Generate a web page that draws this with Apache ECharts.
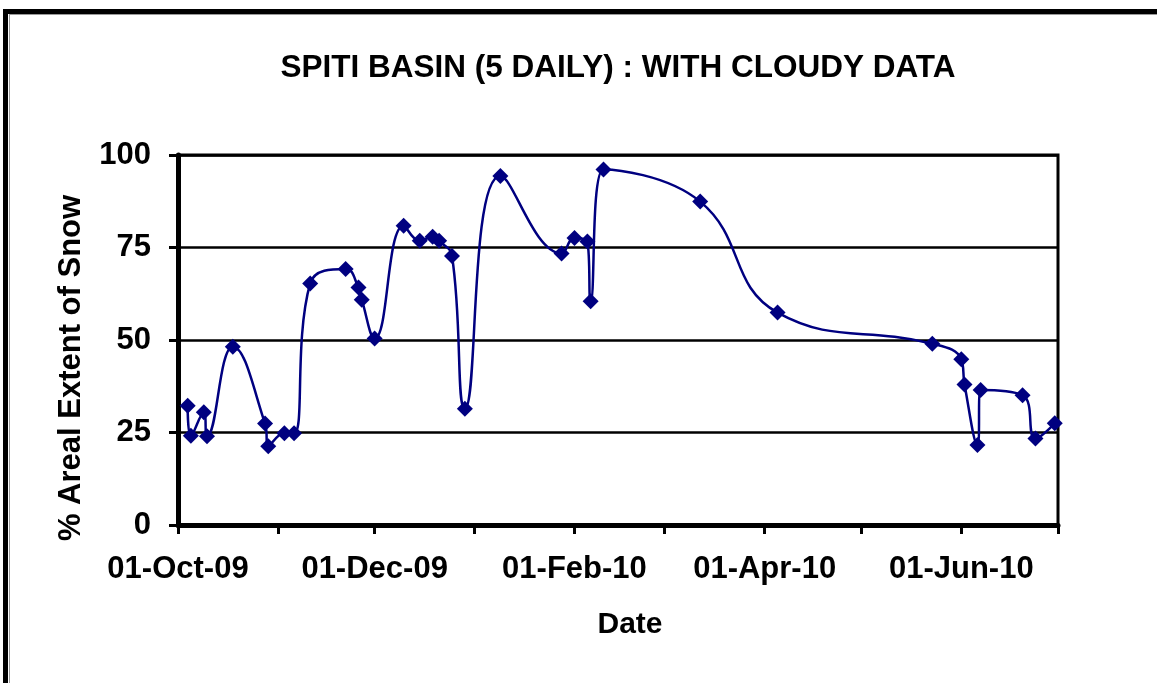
<!DOCTYPE html>
<html>
<head>
<meta charset="utf-8">
<title>Spiti Basin snow cover</title>
<script src="https://cdn.jsdelivr.net/npm/echarts@6/dist/echarts.min.js"></script>
<style>
  html, body { margin: 0; padding: 0; background: #ffffff; }
  #chart { width: 1157px; height: 683px; }
</style>
</head>
<body>
<div id="chart"></div>
<script>
// 5-daily observation dates (with cloudy scenes included)
const obsDates = [
  '2009-10-04', '2009-10-05', '2009-10-09', '2009-10-10', '2009-10-18',
  '2009-10-28', '2009-10-29', '2009-11-03', '2009-11-06', '2009-11-11',
  '2009-11-22', '2009-11-26', '2009-11-27', '2009-12-01', '2009-12-10',
  '2009-12-15', '2009-12-19', '2009-12-21', '2009-12-25', '2009-12-29',
  '2010-01-09', '2010-01-28', '2010-02-01', '2010-02-05', '2010-02-06',
  '2010-02-10', '2010-03-12', '2010-04-05', '2010-05-23', '2010-06-01',
  '2010-06-02', '2010-06-06', '2010-06-07', '2010-06-20', '2010-06-24',
  '2010-06-30'
];

// % areal extent of snow on each date
const snowExtent = [
  32.2, 24.1, 30.5, 24.0, 48.2,
  27.4, 21.3, 24.8, 24.8, 65.3,
  69.2, 64.2, 60.9, 50.4, 80.9,
  76.8, 77.9, 76.8, 72.7, 31.4,
  94.3, 73.4, 77.6, 76.6, 60.5,
  96.1, 87.4, 57.4, 49.0, 44.8,
  38.0, 21.6, 36.5, 35.1, 23.4,
  27.5
];

// Month starts carrying a tick mark, and the ones that also carry a label
const tickMonths = [
  '2009-10-01', '2009-11-01', '2009-12-01', '2010-01-01', '2010-02-01',
  '2010-03-01', '2010-04-01', '2010-05-01', '2010-06-01', '2010-07-01'
];
const labelMonths = ['2009-10-01', '2009-12-01', '2010-02-01', '2010-04-01', '2010-06-01'];
const labelTexts = ['01-Oct-09', '01-Dec-09', '01-Feb-10', '01-Apr-10', '01-Jun-10'];

// dates are plotted on a numeric axis in milliseconds (UTC)
function toTime(s) {
  const p = s.split('-').map(Number);
  return Date.UTC(p[0], p[1] - 1, p[2]);
}

const labelByTime = {};
labelMonths.forEach((d, i) => { labelByTime[toTime(d)] = labelTexts[i]; });

const FONT = "'Liberation Sans', Arial, sans-serif";
const NAVY = '#000080';

const chart = echarts.init(document.getElementById('chart'), null, { renderer: 'canvas' });

chart.setOption({
  backgroundColor: '#ffffff',
  animation: false,
  title: {
    text: 'SPITI BASIN (5 DAILY) : WITH CLOUDY DATA',
    left: 613,
    top: 47,
    textAlign: 'center',
    textStyle: { fontFamily: FONT, fontWeight: 'bold', fontSize: 31.5, color: '#000000' }
  },
  graphic: [
    // outer frame: heavy top and left edges with a thin inner shadow line
    { type: 'rect', shape: { x: 3, y: 9, width: 1160, height: 5 }, style: { fill: '#000000' }, silent: true },
    { type: 'rect', shape: { x: 3, y: 9, width: 5, height: 690 }, style: { fill: '#000000' }, silent: true },
    { type: 'rect', shape: { x: 9, y: 14, width: 1160, height: 1 }, style: { fill: '#9a9a9a' }, silent: true },
    { type: 'rect', shape: { x: 9, y: 14, width: 1, height: 690 }, style: { fill: '#9a9a9a' }, silent: true }
  ],
  grid: {
    left: 178,
    right: 99,
    top: 155,
    bottom: 158,
    show: true,
    borderColor: '#000000',
    borderWidth: 3,
    containLabel: false
  },
  xAxis: {
    type: 'value',
    min: toTime(tickMonths[0]),
    max: toTime(tickMonths[tickMonths.length - 1]),
    name: 'Date',
    nameLocation: 'middle',
    nameGap: 85,
    nameTextStyle: {
      fontFamily: FONT, fontWeight: 'bold', fontSize: 30, color: '#000000',
      padding: [0, 0, 0, 24]
    },
    axisLine: { show: true, lineStyle: { color: '#000000', width: 5 } },
    axisTick: {
      show: true,
      length: 9,
      inside: false,
      lineStyle: { color: '#000000', width: 3 },
      customValues: tickMonths.map(toTime)
    },
    axisLabel: {
      customValues: labelMonths.map(toTime),
      margin: 29,
      fontFamily: FONT,
      fontWeight: 'bold',
      fontSize: 31,
      color: '#000000',
      formatter: (v) => labelByTime[v] || ''
    },
    splitLine: { show: false }
  },
  yAxis: {
    type: 'value',
    min: 0,
    max: 100,
    interval: 25,
    name: '% Areal Extent of Snow',
    nameLocation: 'middle',
    nameGap: 91,
    nameRotate: 90,
    nameTextStyle: {
      fontFamily: FONT, fontWeight: 'bold', fontSize: 31, color: '#000000',
      padding: [0, 56, 0, 0]
    },
    axisLine: { show: true, lineStyle: { color: '#000000', width: 5 } },
    axisTick: {
      show: true,
      length: 9,
      lineStyle: { color: '#000000', width: 3 }
    },
    axisLabel: {
      margin: 27,
      fontFamily: FONT,
      fontWeight: 'bold',
      fontSize: 31,
      color: '#000000'
    },
    splitLine: { show: true, lineStyle: { color: '#000000', width: 2.5 } }
  },
  series: [{
    type: 'line',
    data: obsDates.map((d, i) => [toTime(d), snowExtent[i]]),
    smooth: 0.45,
    symbol: 'diamond',
    symbolSize: 16,
    showAllSymbol: true,
    lineStyle: { color: NAVY, width: 2.5 },
    itemStyle: { color: NAVY, borderWidth: 0 },
    z: 3
  }]
});
</script>
</body>
</html>
